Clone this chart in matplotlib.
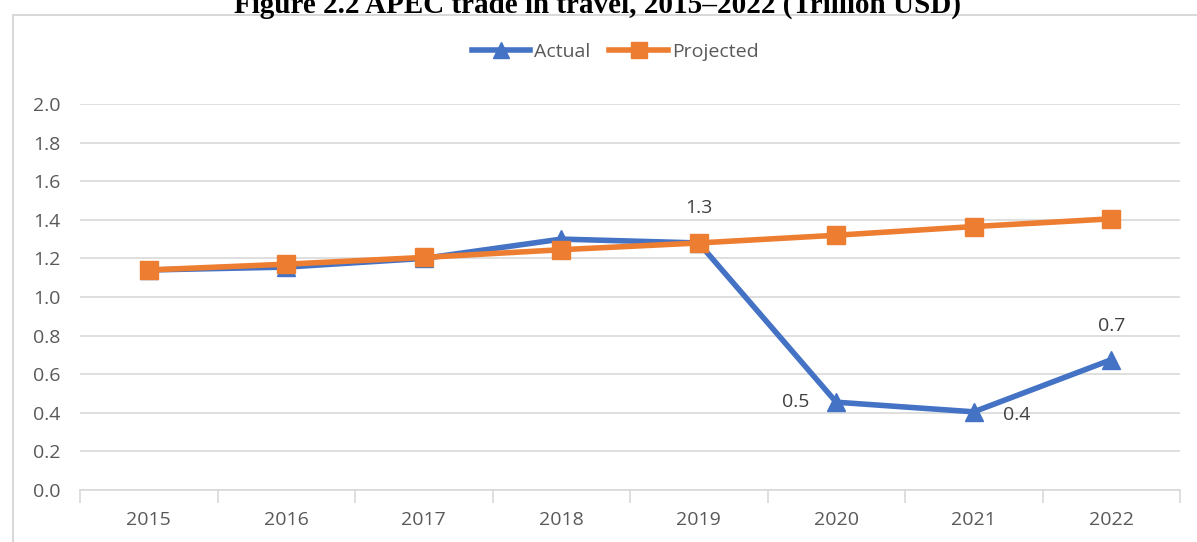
import matplotlib.pyplot as plt
from matplotlib.patches import Rectangle

years = ["2015", "2016", "2017", "2018", "2019", "2020", "2021", "2022"]
actual = [1.14, 1.155, 1.20, 1.30, 1.28, 0.455, 0.405, 0.675]
projected = [1.14, 1.17, 1.205, 1.245, 1.28, 1.32, 1.365, 1.405]
label_idx = [4, 5, 6, 7]
label_txt = ["1.3", "0.5", "0.4", "0.7"]

plt.rcParams["font.family"] = ["Open Sans", "DejaVu Sans"]

fig = plt.figure(figsize=(11.97, 5.42), dpi=100)
ax = fig.add_axes([80/1197, 52/542, 1100/1197, 386/542])

x = range(len(years))
ax.plot(x, actual, color="#4472c4", lw=4, marker="^", ms=13, label="Actual", zorder=3)
ax.plot(x, projected, color="#ed7d31", lw=4, marker="s", ms=13, label="Projected", zorder=4)

# label offsets in points (dx, dy)
offsets = {4: (0, 25), 5: (-29, 0), 6: (31, -2), 7: (0, 24)}
for i, t in zip(label_idx, label_txt):
    dx, dy = offsets[i]
    ax.annotate(t, (i, actual[i]), xytext=(dx, dy), textcoords="offset points",
                ha="center", va="center", fontsize=14, color="#404040")

ax.set_xlim(-0.5, len(years) - 0.5)
ax.set_ylim(0, 2.0)
ax.set_yticks([i / 5 for i in range(11)])
ax.set_yticklabels([f"{i / 5:.1f}" for i in range(11)])
ax.set_xticks(list(x))
ax.set_xticklabels(years)
ax.set_xticks([i - 0.5 for i in range(len(years) + 1)], minor=True)
ax.tick_params(axis="x", which="major", length=0, pad=15, labelsize=14, labelcolor="#595959")
ax.tick_params(axis="x", which="minor", length=9, color="#d9d9d9", width=1.2)
ax.tick_params(axis="y", length=0, pad=14, labelsize=14, labelcolor="#595959")
ax.grid(axis="y", color="#d9d9d9", lw=1.2)
ax.set_axisbelow(True)
for s in ["top", "right", "left"]:
    ax.spines[s].set_visible(False)
ax.spines["bottom"].set_color("#d9d9d9")
ax.spines["bottom"].set_linewidth(1.2)

ax.legend(loc="center", bbox_to_anchor=(615/1197, 1 - 52/542), bbox_transform=fig.transFigure,
          ncol=2, frameon=False, fontsize=14, labelcolor="#595959",
          handlelength=3.0, columnspacing=1.0, handletextpad=0.2, markerscale=0.85)

fig.patches.append(Rectangle((13/1197, -0.01), 1.0, 1 - 15/542 + 0.01, transform=fig.transFigure,
                             fill=False, edgecolor="#d9d9d9", lw=1.5))
fig.text(598/1197, 1 - 5/542, "Figure 2.2 APEC trade in travel, 2015\u20132022 (Trillion USD)",
         ha="center", va="center", fontsize=21, fontweight="bold", family="Liberation Serif")

fig.savefig("out.png", dpi=100)
